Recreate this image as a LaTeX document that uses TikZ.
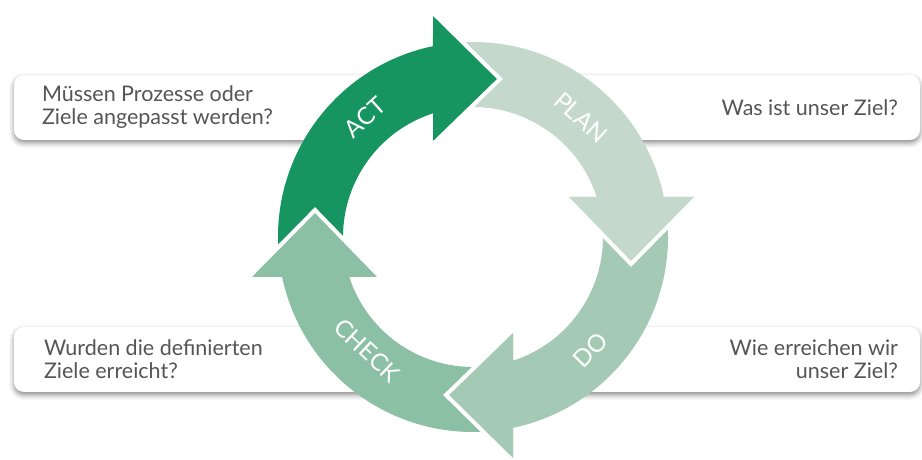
\documentclass[tikz,border=0pt]{standalone}
\usepackage{fontspec}
\setmainfont{Lato}
\usetikzlibrary{calc,shadows.blur}
\definecolor{actgreen}{RGB}{23,149,96}
\definecolor{plangreen}{RGB}{196,216,204}
\definecolor{dogreen}{RGB}{164,202,181}
\definecolor{checkgreen}{RGB}{139,192,165}
\definecolor{qgrey}{RGB}{85,85,85}
\tikzset{%
        qbox/.style = {
            fill = white,
            rounded corners = 10pt,
            minimum height = 65pt,
            blur shadow = {shadow xshift=0pt, shadow yshift=-3pt,
                           shadow blur radius=5pt, shadow opacity=45}
        },
        qtext/.style = {
            text = qgrey,
            font = \fontsize{21.5}{23}\selectfont,
            inner sep = 0pt
        },
        phase/.style = {
            text = white,
            font = \fontsize{24}{24}\selectfont,
            inner sep = 0pt
        }
}
\tikzstyle{gap}=[
    draw = white,
    line width = 4pt,
    line join = miter
]
% one quarter of the cycle, drawn as the top one and turned by #1
\newcommand{\cyclearrow}[2]{%
    \fill[#2, rotate=#1] (185:195) arc[start angle=185, end angle=101.84, radius=195]
        -- (-40,224) -- (27,158) -- (-40,93) -- (107.92:130)
        arc[start angle=107.92, end angle=185, radius=130] -- cycle;
}
\newcommand{\cyclehead}[2]{%
    \fill[#2, rotate=#1] (-40,224) -- (27,158) -- (-40,93) -- cycle;
    \draw[gap, rotate=#1] (-40,224) -- (27,158) -- (-40,93);
}

\begin{document}
\begin{tikzpicture}[x=1pt, y=1pt]
    \useasboundingbox (0,0) rectangle (922,460);
    \coordinate (ring) at (473,223);

    \node[qbox, minimum width=362pt] (actbox) at (195,352.5) {};
    \node[qbox, minimum width=350pt] (planbox) at (745,352.5) {};
    \node[qbox, minimum width=358pt] (checkbox) at (193,100.5) {};
    \node[qbox, minimum width=344pt] (dobox) at (748,100.5) {};

    \node[qtext, anchor=west, align=left] (actq) at ([xshift=28pt]actbox.west)
        {Müssen Prozesse oder\\Ziele angepasst werden?};
    \node[qtext, anchor=east, align=right] (planq) at ([xshift=-22pt]planbox.east)
        {Was ist unser Ziel?};
    \node[qtext, anchor=west, align=left] (checkq) at ([xshift=30pt]checkbox.west)
        {Wurden die definierten\\Ziele erreicht?};
    \node[qtext, anchor=east, align=right] (doq) at ([xshift=-22pt]dobox.east)
        {Wie erreichen wir\\unser Ziel?};

    \begin{scope}[shift={(ring)}]
        \cyclearrow{0}{actgreen}
        \cyclearrow{-90}{plangreen}
        \cyclearrow{-180}{dogreen}
        \cyclearrow{-270}{checkgreen}
        \cyclehead{0}{actgreen}
        \cyclehead{-90}{plangreen}
        \cyclehead{-180}{dogreen}
        \cyclehead{-270}{checkgreen}

        \node[phase, rotate=42] (act) at (132:161) {ACT};
        \node[phase, rotate=-42] (plan) at (48:161) {PLAN};
        \node[phase, rotate=46] (do) at (-44:163) {DO};
        \node[phase, rotate=-43] (check) at (-133:155) {CHECK};
    \end{scope}
\end{tikzpicture}
\end{document}
